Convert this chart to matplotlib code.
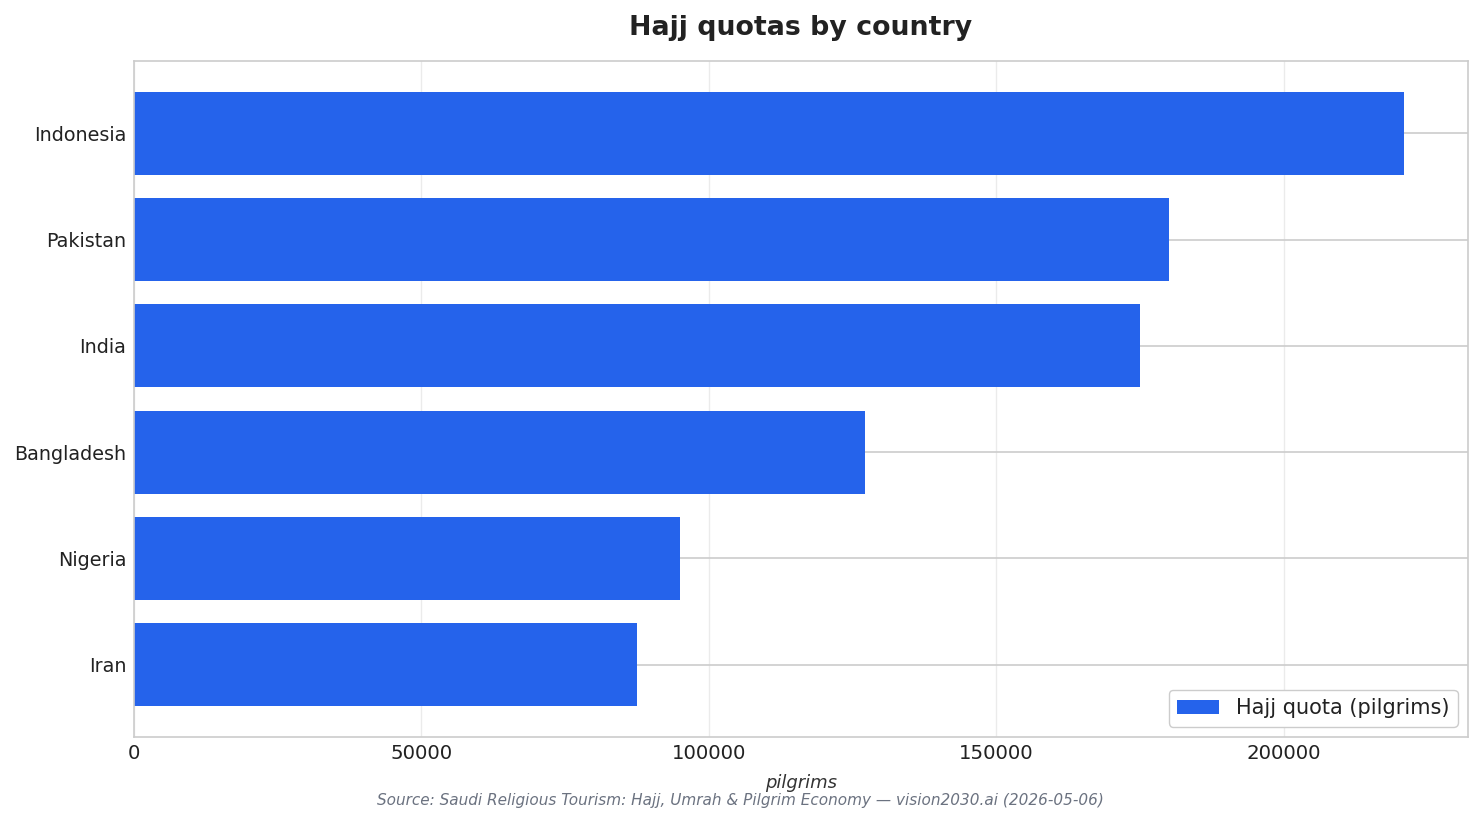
import matplotlib
matplotlib.use("Agg")
import matplotlib.pyplot as plt

countries = ["Indonesia", "Pakistan", "India", "Bangladesh", "Nigeria", "Iran"]
quotas = [221000, 180000, 175025, 127198, 95000, 87550]

title = "Hajj quotas by country"
xlabel = "pilgrims"
legend_label = "Hajj quota (pilgrims)"
source = "Source: Saudi Religious Tourism: Hajj, Umrah & Pilgrim Economy \u2014 vision2030.ai (2026-05-06)"

plt.rcParams['font.family'] = ['DejaVu Sans']

fig = plt.figure(figsize=(14.83, 8.24), dpi=100)
ax = fig.add_axes([134/1483, 1-737/824, (1468-134)/1483, (737-61)/824])

ypos = list(range(len(countries)))
ax.barh(ypos, quotas, height=0.78, color="#2563EB", label=legend_label, zorder=2)
ax.set_yticks(ypos)
ax.set_yticklabels(countries)
ax.invert_yaxis()

ax.set_axisbelow(True)
ax.grid(axis='y', color='#cccccc', linewidth=1.2, zorder=0)
ax.grid(axis='x', color='#ebebeb', linewidth=1.0, zorder=0)
for s in ax.spines.values():
    s.set_color('#cccccc')
    s.set_linewidth(1.2)
ax.tick_params(axis='both', length=0, colors='#222222')
ax.tick_params(axis='x', labelsize=14.2, pad=5)
ax.tick_params(axis='y', labelsize=13.75, pad=5.5)
ax.set_xlim(0, 232050)

ax.set_title(title, fontsize=19.3, fontweight='bold', color='#222222', pad=19)
ax.set_xlabel(xlabel, fontsize=13, fontstyle='italic', color='#333333', labelpad=8)
fig.text(740/1483, 1 - 800/824, source, ha='center', va='center',
         fontsize=10.95, fontstyle='italic', color='#6b7280')

leg = ax.legend(loc='lower right', fontsize=15, frameon=True, fancybox=True,
                edgecolor='#cccccc', framealpha=1.0, labelcolor='#222222')

fig.savefig("out.png", dpi=100)
